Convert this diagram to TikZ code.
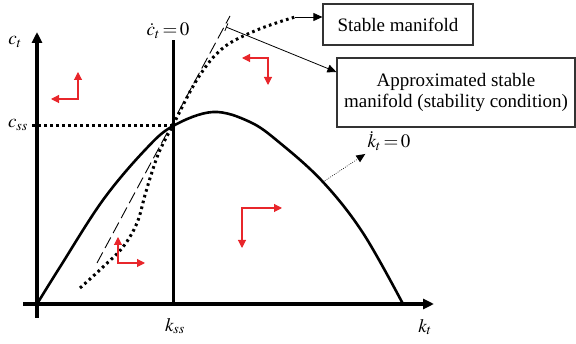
\documentclass[tikz,border=0pt]{standalone}
\usepackage{mathptmx}
\usepackage[no-math]{fontspec}
\setmainfont{Liberation Serif}
\usetikzlibrary{arrows.meta,positioning}
\definecolor{ink}{HTML}{000000}
\definecolor{frame}{HTML}{333333}
\definecolor{flow}{HTML}{E8262B}

\tikzset{
  axis/.style={ink,line width=4pt,-{Triangle[length=11pt,width=10pt]}},
  locus/.style={ink,line width=2.6pt},
  saddle/.style={ink,line width=3pt,dash pattern=on 2.6pt off 3.4pt},
  approx/.style={ink,line width=0.9pt,dash pattern=on 12pt off 5pt},
  pointer/.style={ink,line width=0.8pt,-{Triangle[length=9pt,width=8pt]}},
  hint/.style={ink,line width=0.6pt,dash pattern=on 0.8pt off 1.4pt,-{Triangle[length=9pt,width=8pt,line width=0pt]}},
  labelbox/.style={draw=frame,line width=1.2pt,align=center,font=\fontsize{19}{21}\selectfont},
  flowarrow/.style={flow,line width=1.1pt,{Triangle[length=8pt,width=8pt]}-{Triangle[length=8pt,width=8pt]}},
  lbl/.style={inner sep=1pt,font=\fontsize{19}{21}\selectfont}
}

\begin{document}
\begin{tikzpicture}[x=1pt,y=-1pt]
\useasboundingbox (0,0) rectangle (576,344);

\coordinate (O) at (37,304);
\coordinate (ytop) at (37,32);
\coordinate (ybot) at (37,318);
\coordinate (xleft) at (23,304);
\coordinate (xright) at (434,304);
\coordinate (ss) at (173,126);
\coordinate (cdotbot) at (173,304);

% axes
\draw[axis] (ybot) -- (ytop);
\draw[axis] (xleft) -- (xright);
\node[lbl] (ct) at (15,42) {$c_t$};
\node[lbl] (kt) at (425,327) {$k_t$};
\node[lbl] (css) at (18,125) {$c_{ss}$};
\node[lbl] (kss) at (175,326) {$k_{ss}$};

% c dot = 0
\node[lbl] (cdot) at (168,31) {$\dot c_t\mkern-1.5mu=\mkern-1.5mu0$};
\draw[ink,line width=3pt] (cdotbot) -- (cdotbot |- cdot.south);
\draw[saddle] (ss) -- (css.east |- ss);

% k dot = 0
\draw[locus] plot[smooth,tension=0.6] coordinates {(37,304) (60,267) (103,200) (145,150) (173,126) (213,112) (250,122) (280,143) (323,182) (363,233) (403,304)};
\coordinate (onhump) at (323,182);
\node[lbl] (kdot) at (389,141) {$\dot k_t\mkern-1.5mu=\mkern-1.5mu0$};
\draw[hint] (onhump) -- ([xshift=-1pt,yshift=-2pt]kdot.south west);

% manifolds
\draw[saddle] plot[smooth,tension=0.6] coordinates {(80,288) (103,267) (123,247) (137,223) (145,195) (152,172) (160,150) (173,125) (198,78) (223,48) (257,30) (295,17)};
\coordinate (stabend) at (295,17);
\draw[approx] (97,263) -- (230,16);
\coordinate (approxend) at (226,27);

\node[labelbox,minimum width=150pt,minimum height=41pt] (stable) at (398,24.5) {Stable manifold};
\node[labelbox,minimum width=238pt,minimum height=69pt] (approxbox) at (456,92.5) {Approximated stable\\manifold (stability condition)};

\draw[pointer] (stabend) -- (stable.west |- stabend);
\draw[pointer,{Bar[width=8pt]}-{Triangle[length=9pt,width=8pt]}] (approxend) -- (approxbox.west |- 0,72);

% directions of motion
\foreach \cx/\cy/\dx/\dy in {78/99/-27/-27, 268/58/-26/27, 118/263/27/-26, 242/208/40/40}
  \draw[flowarrow] (\cx+\dx,\cy) -- (\cx,\cy) -- (\cx,\cy+\dy);

\end{tikzpicture}
\end{document}
